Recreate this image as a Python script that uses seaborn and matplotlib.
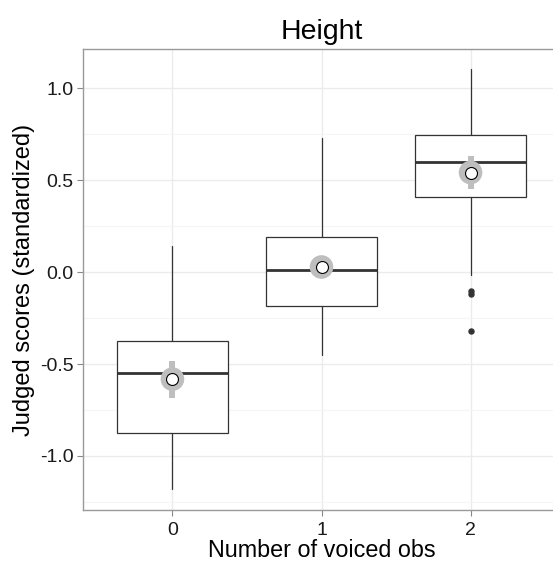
import matplotlib
matplotlib.use("Agg")
import matplotlib.pyplot as plt
import seaborn as sns
import pandas as pd
import numpy as np

# ---- data ----
categories = ["0", "1", "2"]
q1 = [-0.876, -0.186, 0.410]
medians = [-0.549, 0.014, 0.598]
q3 = [-0.377, 0.190, 0.748]
whisker_low = [-1.18, -0.451, -0.015]
whisker_high = [0.141, 0.729, 1.104]
outliers = [[], [], [-0.105, -0.118, -0.319]]
means = [-0.582, 0.028, 0.542]
ci_low = [-0.686, -0.010, 0.450]
ci_high = [-0.482, 0.065, 0.631]
y_ticks = [-1.0, -0.5, 0.0, 0.5, 1.0]
y_tick_labels = ["-1.0", "-0.5", "0.0", "0.5", "1.0"]

sns.set_theme(style="white")
plt.rcParams["font.family"] = ["Liberation Sans", "DejaVu Sans"]
plt.rcParams["axes.unicode_minus"] = False

W, H = 553, 562
fig = plt.figure(figsize=(W / 100, H / 100), dpi=100)
left, right, top, bottom = 83, 560, 49, 510
ax = fig.add_axes([left / W, (H - bottom) / H, (right - left) / W, (bottom - top) / H])

positions = list(range(len(categories)))
stats = []
for i, c in enumerate(categories):
    stats.append(dict(label=c, q1=q1[i], med=medians[i], q3=q3[i],
                      whislo=whisker_low[i], whishi=whisker_high[i],
                      fliers=np.array(outliers[i])))

box_color = "#333333"
ax.bxp(stats, positions=positions, widths=0.75, showfliers=True,
       patch_artist=True,
       boxprops=dict(facecolor="white", edgecolor=box_color, linewidth=0.9),
       medianprops=dict(color=box_color, linewidth=2.0),
       whiskerprops=dict(color=box_color, linewidth=0.9),
       capprops=dict(linewidth=0),
       flierprops=dict(marker="o", markerfacecolor=box_color,
                       markeredgecolor=box_color, markersize=3.6),
       zorder=2)

# mean +/- interval
ax.vlines(positions, ci_low, ci_high, color="#bebebe", linewidth=4.3, zorder=3)
df = pd.DataFrame({"cat": positions, "mean": means})
sns.scatterplot(data=df, x="cat", y="mean", ax=ax, s=17 ** 2,
                color="#bebebe", edgecolor="none", zorder=4, legend=False)
sns.scatterplot(data=df, x="cat", y="mean", ax=ax, s=8.6 ** 2,
                color="white", edgecolor="black", linewidth=0.8, zorder=5,
                legend=False)

ax.set_xlim(-0.6, 2.6)
ax.set_ylim(-1.294, 1.214)
ax.set_xticks(positions)
ax.set_xticklabels(categories)
ax.set_yticks(y_ticks)
ax.set_yticklabels(y_tick_labels)
ax.set_yticks([-1.25, -0.75, -0.25, 0.25, 0.75], minor=True)

ax.grid(True, which="major", color="#ebebeb", linewidth=1.0, zorder=0)
ax.grid(True, which="minor", axis="y", color="#f5f5f5", linewidth=0.8, zorder=0)
ax.set_axisbelow(True)

for s in ax.spines.values():
    s.set_color("#999999")
    s.set_linewidth(1.0)
ax.spines["right"].set_visible(False)

ax.tick_params(axis="both", which="major", length=4, width=0.8, color="#888888",
               labelsize=14, labelcolor="#1a1a1a", pad=3)
ax.tick_params(axis="x", which="major", pad=4.5)
ax.tick_params(axis="both", which="minor", length=0)
ax.tick_params(left=True, bottom=True)

ax.set_xlabel("Number of voiced obs", fontsize=16.8, color="black", labelpad=0)
ax.set_ylabel("Judged scores (standardized)", fontsize=17, color="black", labelpad=3)
ax.set_title("Height", fontsize=20.5, color="black", pad=7)

fig.savefig("out.png", dpi=100)
